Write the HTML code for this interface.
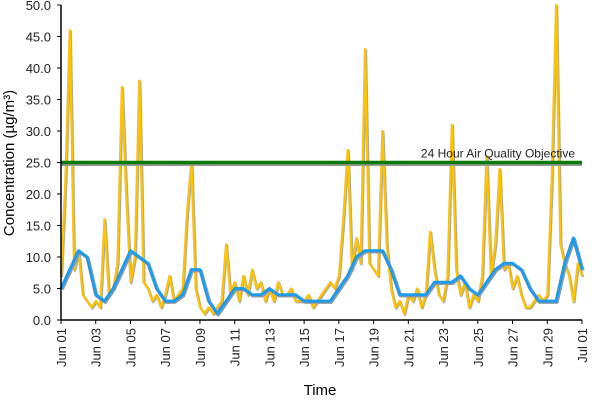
<!DOCTYPE html>
<html><head><meta charset="utf-8"><style>
body{margin:0;background:#fff;}
svg{display:block;font-family:"Liberation Sans",sans-serif;}
</style></head><body>
<svg id="c" width="600" height="400"></svg>
<script>
const yTicks=[0,5,10,15,20,25,30,35,40,45,50];
const xTickLabels=["Jun 01","Jun 03","Jun 05","Jun 07","Jun 09","Jun 11","Jun 13","Jun 15","Jun 17","Jun 19","Jun 21","Jun 23","Jun 25","Jun 27","Jun 29","Jul 01"];
const xTickDays=[0,2,4,6,8,10,12,14,16,18,20,22,24,26,28,30];
const objective=25;
const hourlyStep=0.25;
const hourlyValues=[7,22,46,8, 11,4,3,2, 3,2,16,4, 5,9,37,20, 6,10,38,6, 5,3,4,2, 4,7,3,4, 5,17,25,5, 2,1,2,1, 2,3,12,4, 6,3,7,4, 8,5,6,3, 5,3,6,4, 4,5,3,3, 3,4,2,3, 4,5,6,5, 7,16,27,8, 13,9,43,9, 8,7,30,12, 5,2,3,1, 4,3,5,2, 4,14,8,4, 3,7,31,8, 4,6,2,4, 3,7,26,7, 12,24,8,9, 5,7,4,2, 2,3,4,3, 4,22,50,12, 9,7,3,9, 7];
const avgStep=0.5;
const avgValues=[5,8,11,10,4,3,5,8,11,10,9,5,3,3,4,8,8,3,1,3,5,5,4,4,5,4,4,4,3,3,3,3,5,7,10,11,11,11,8,4,4,4,4,6,6,6,7,5,4,6,8,9,9,8,5,3,3,3,9,13,8];

const svg=document.getElementById('c');
const NS='http://www.w3.org/2000/svg';
const X0=61,X1=582,Y0=320,Y1=5;
const xs=d=>X0+(X1-X0)*d/30;
const ys=v=>Y0-(Y0-Y1)*v/50;
function mk(t,a,p){const e=document.createElementNS(NS,t);for(const k in a)e.setAttribute(k,a[k]);(p||svg).appendChild(e);return e;}

yTicks.forEach(v=>{
  const t=mk('text',{x:51,y:ys(v)+5,'text-anchor':'end','font-size':13,fill:'#222'});
  
  
  t.textContent=v.toFixed(1);
  const l=mk('line',{x1:57,x2:X0,y1:ys(v),y2:ys(v),stroke:'#000'});
  
  
});
xTickDays.forEach((d,i)=>{
  const l=mk('line',{x1:xs(d),x2:xs(d),y1:Y0,y2:Y0+4,stroke:'#000'});
  
  
  const t=mk('text',{transform:`translate(${xs(d)+5},${Y0+8}) rotate(-90)`,'text-anchor':'end','font-size':13,fill:'#222'});
  
  
  t.textContent=xTickLabels[i];
});

function pts(vals,step){return vals.map((v,i)=>xs(i*step).toFixed(1)+','+ys(v).toFixed(1)).join(' ');}
let p=mk('polyline',{points:pts(hourlyValues,hourlyStep),fill:'none',stroke:'#aaa','stroke-width':2.5,transform:'translate(1,1)','stroke-linejoin':'round'});

p=mk('polyline',{points:pts(hourlyValues,hourlyStep),fill:'none',stroke:'#FFC400','stroke-width':2.2,'stroke-linejoin':'round'});


let g=mk('line',{x1:X0,x2:X1,y1:ys(objective)+1.5,y2:ys(objective)+1.5,stroke:'#999','stroke-width':4});

g=mk('line',{x1:X0,x2:X1,y1:ys(objective),y2:ys(objective),stroke:'#0A7A0A','stroke-width':3.5});

const ol=mk('text',{x:575,y:ys(objective)-5,'text-anchor':'end','font-size':12,fill:'#222'});

ol.textContent='24 Hour Air Quality Objective';

p=mk('polyline',{points:pts(avgValues,avgStep),fill:'none',stroke:'#999','stroke-width':3.5,transform:'translate(1,1)','stroke-linejoin':'round'});

p=mk('polyline',{points:pts(avgValues,avgStep),fill:'none',stroke:'#1E9BEA','stroke-width':3,'stroke-linejoin':'round'});


let a=mk('line',{x1:X0,x2:X0,y1:Y1,y2:Y0,stroke:'#000','stroke-width':1.5});

a=mk('line',{x1:X0,x2:X1,y1:Y0,y2:Y0,stroke:'#000','stroke-width':1.5});


let t=mk('text',{x:320,y:395,'text-anchor':'middle','font-size':15,fill:'#000'});

t.textContent='Time';
t=mk('text',{transform:'translate(14,163) rotate(-90)','text-anchor':'middle','font-size':15,fill:'#000'});

t.textContent='Concentration (µg/m³)';
</script>
</body></html>
